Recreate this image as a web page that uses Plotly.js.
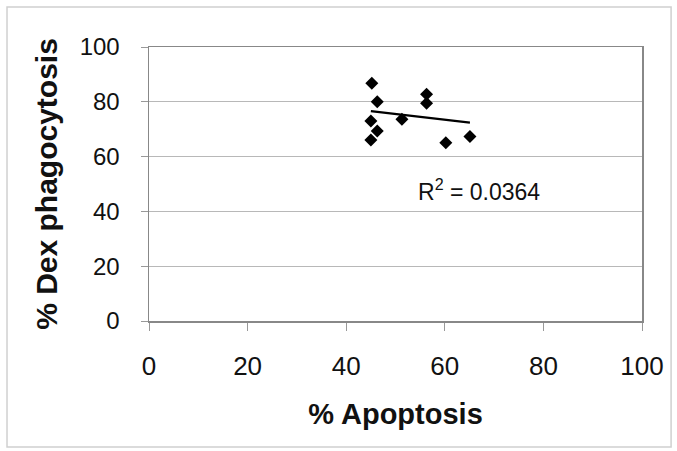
<!DOCTYPE html>
<html>
<head>
<meta charset="utf-8">
<script src="https://cdn.plot.ly/plotly-3.0.1.min.js"></script>
<style>html,body{margin:0;padding:0;background:#fff;}#chart{width:677px;height:451px;}</style>
</head>
<body>
<div id="chart"></div>
<script>
// Data
const apoptosis = [45.2, 46.3, 56.3, 56.3, 45.0, 51.3, 46.3, 45.0, 60.2, 65.1];
const dexPhagocytosis = [86.8, 80.0, 82.8, 79.5, 73.0, 73.6, 69.3, 66.1, 65.1, 67.3];
// Linear trendline (ends at min and max x)
const trendX = [45.0, 65.1];
const trendY = [76.6, 72.4];
const rSquaredLabel = 'R<sup>2</sup> = 0.0364';
const xTicks = [0, 20, 40, 60, 80, 100];
const yTicks = [0, 20, 40, 60, 80, 100];

const font = 'Liberation Sans, Arial, Helvetica, sans-serif';

const traces = [
  {
    x: apoptosis, y: dexPhagocytosis, type: 'scatter', mode: 'markers',
    marker: {symbol: 'diamond', size: 10, color: '#000'},
    hoverinfo: 'x+y'
  },
  {
    x: trendX, y: trendY, type: 'scatter', mode: 'lines',
    line: {color: '#000', width: 2.4}, hoverinfo: 'skip'
  }
];

const layout = {
  width: 677, height: 451,
  margin: {l: 149, r: 35, t: 47, b: 130},
  paper_bgcolor: '#fff', plot_bgcolor: '#fff',
  showlegend: false,
  font: {family: font, color: '#111'},
  xaxis: {
    range: [0, 100], tickvals: xTicks, ticktext: xTicks.map(String),
    ticks: 'outside', ticklen: 8, tickcolor: '#999', tickwidth: 1,
    showline: true, linecolor: '#888', linewidth: 1.5, mirror: true,
    showgrid: false, zeroline: false,
    tickfont: {size: 26, family: font, color: '#111'},
    ticklabelstandoff: 13,
    title: {text: '<b>% Apoptosis</b>', font: {size: 29, family: font, color: '#111'}, standoff: 24},
    automargin: false, fixedrange: true
  },
  yaxis: {
    range: [0, 100], tickvals: yTicks, ticktext: yTicks.map(String),
    ticks: 'outside', ticklen: 7, tickcolor: '#999', tickwidth: 1,
    showline: true, linecolor: '#888', linewidth: 1.5, mirror: true,
    showgrid: true, gridcolor: '#b8b8b8', gridwidth: 1.2, zeroline: false,
    tickfont: {size: 24, family: font, color: '#111'},
    ticklabelstandoff: 16,
    title: {text: '<b>% Dex phagocytosis</b>', font: {size: 30, family: font, color: '#111'}, standoff: 13},
    automargin: false, fixedrange: true
  },
  annotations: [{
    xref: 'paper', yref: 'paper', x: 0.669, y: 0.477, xanchor: 'center', yanchor: 'middle',
    text: rSquaredLabel, showarrow: false,
    font: {size: 23, family: font, color: '#111'}
  }],
  shapes: [{
    type: 'rect', xref: 'paper', yref: 'paper',
    x0: -0.288, x1: 1.059, y0: -0.46, y1: 1.146,
    line: {color: '#d0d0d0', width: 1.5}, fillcolor: 'rgba(0,0,0,0)', layer: 'below'
  }]
};

Plotly.newPlot('chart', traces, layout, {staticPlot: true, displayModeBar: false});
</script>
</body>
</html>
